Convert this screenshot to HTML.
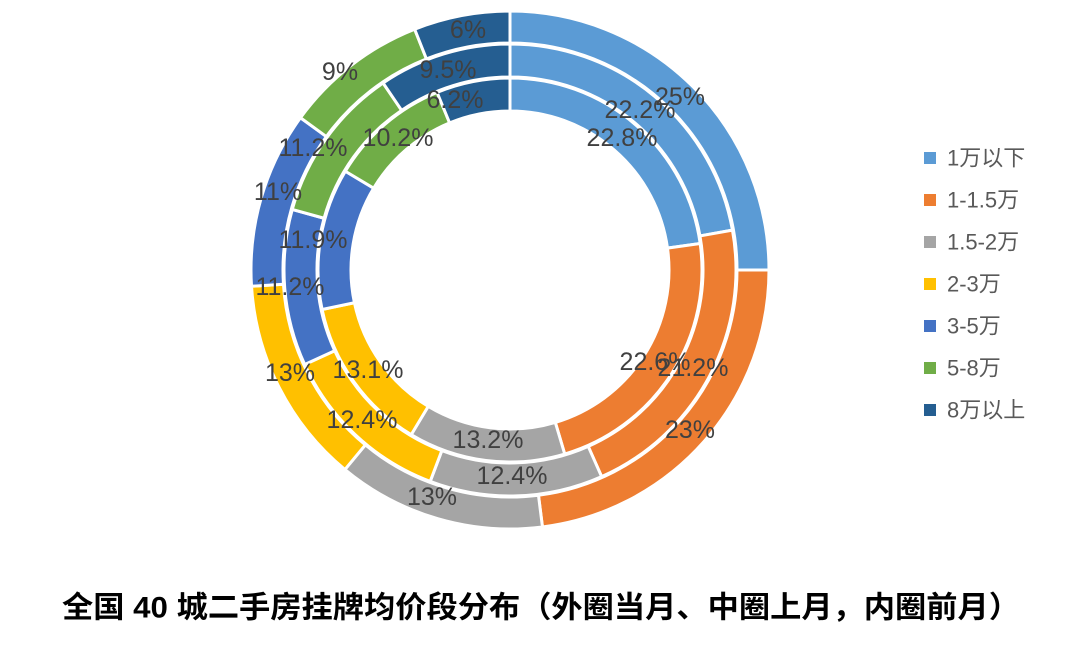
<!DOCTYPE html>
<html><head><meta charset="utf-8"><style>
body{margin:0;width:1080px;height:657px;background:#fff;overflow:hidden;font-family:"Liberation Sans","Noto Sans CJK SC",sans-serif}
svg text{font-family:"Liberation Sans","Noto Sans CJK SC",sans-serif}
</style></head><body>
<svg id="s" width="1080" height="657" xmlns="http://www.w3.org/2000/svg">
<g id="rings"></g>
<g font-size="25" fill="#404040" text-anchor="middle" dominant-baseline="central">
<text x="680" y="97">25%</text>
<text x="640" y="110">22.2%</text>
<text x="622" y="138">22.8%</text>
<text x="655" y="362">22.6%</text>
<text x="693" y="368">21.2%</text>
<text x="690" y="430">23%</text>
<text x="488" y="440">13.2%</text>
<text x="512" y="476">12.4%</text>
<text x="432" y="497">13%</text>
<text x="368" y="370">13.1%</text>
<text x="362" y="420">12.4%</text>
<text x="290" y="373">13%</text>
<text x="313" y="240">11.9%</text>
<text x="290" y="287">11.2%</text>
<text x="278" y="192">11%</text>
<text x="313" y="148">11.2%</text>
<text x="398" y="138">10.2%</text>
<text x="340" y="72">9%</text>
<text x="448" y="70">9.5%</text>
<text x="455" y="100">6.2%</text>
<text x="468" y="30">6%</text>
</g>
<g font-size="22" fill="#595959" dominant-baseline="central">
<rect x="924" y="152" width="12" height="12" fill="#5B9BD5"/><text x="947" y="158">1万以下</text>
<rect x="924" y="194" width="12" height="12" fill="#ED7D31"/><text x="947" y="200">1-1.5万</text>
<rect x="924" y="236" width="12" height="12" fill="#A5A5A5"/><text x="947" y="242">1.5-2万</text>
<rect x="924" y="278" width="12" height="12" fill="#FFC000"/><text x="947" y="284">2-3万</text>
<rect x="924" y="320" width="12" height="12" fill="#4472C4"/><text x="947" y="326">3-5万</text>
<rect x="924" y="362" width="12" height="12" fill="#70AD47"/><text x="947" y="368">5-8万</text>
<rect x="924" y="404" width="12" height="12" fill="#255E91"/><text x="947" y="410">8万以上</text>
</g>
<text x="541" y="608" font-size="30" font-weight="bold" fill="#000" text-anchor="middle" dominant-baseline="central" textLength="958" lengthAdjust="spacingAndGlyphs">全国 40 城二手房挂牌均价段分布（外圈当月、中圈上月，内圈前月）</text>
</svg>
<script>
var cx=510,cy=270;
var cols=["#5B9BD5","#ED7D31","#A5A5A5","#FFC000","#4472C4","#70AD47","#255E91"];
var rings=[[227,259,[25,23,13,13,11,9,6]],[193,226,[22.2,21.2,12.4,12.4,11.2,11.2,9.5]],[159,192,[22.8,22.6,13.2,13.1,11.9,10.2,6.2]]];
var g=document.getElementById("rings"),h="";
function pt(r,a){return [cx+r*Math.sin(a),cy-r*Math.cos(a)];}
rings.forEach(function(R){
 var tot=R[2].reduce(function(a,b){return a+b},0),acc=0;
 R[2].forEach(function(v,i){
  var a0=acc/tot*2*Math.PI,a1=(acc+v)/tot*2*Math.PI;acc+=v;
  var lg=(a1-a0)>Math.PI?1:0;
  var p1=pt(R[1],a0),p2=pt(R[1],a1),p3=pt(R[0],a1),p4=pt(R[0],a0);
  h+='<path d="M'+p1+' A'+R[1]+','+R[1]+' 0 '+lg+' 1 '+p2+' L'+p3+' A'+R[0]+','+R[0]+' 0 '+lg+' 0 '+p4+' Z" fill="'+cols[i]+'" stroke="#fff" stroke-width="3"/>';
 });
});
g.innerHTML=h;
</script>
</body></html>
